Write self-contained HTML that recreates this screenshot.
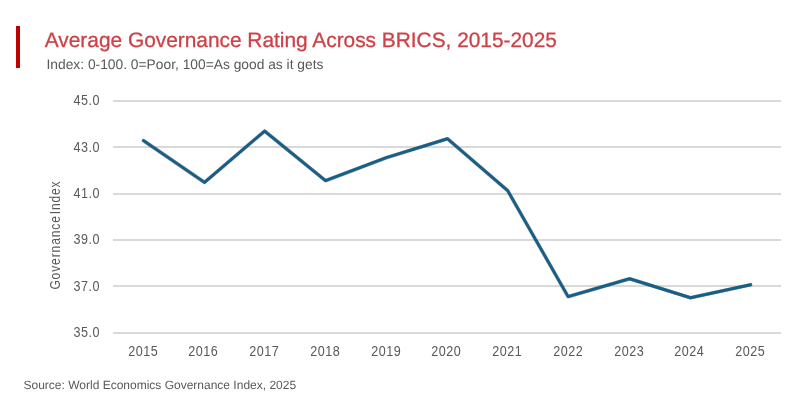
<!DOCTYPE html>
<html lang="en"><head><meta charset="utf-8"><title>Average Governance Rating Across BRICS, 2015-2025</title>
<style>
html,body{margin:0;padding:0;background:#fff}
body{width:800px;height:400px;overflow:hidden;font-family:"Liberation Sans",Arial,sans-serif}
svg{display:block}
text{font-family:"Liberation Sans",Arial,sans-serif;stroke-linejoin:round;text-rendering:geometricPrecision}
.ax text{text-rendering:auto}
.grid rect{fill:#d9d9d9}
</style></head><body>
<svg width="800" height="400" viewBox="0 0 800 400">
<rect width="800" height="400" fill="#ffffff"/>
<rect x="16" y="26" width="4" height="42" fill="#c00000"/>
<text transform="translate(44.80,47.00)" font-size="20.86" fill="#cd4248" text-anchor="start" stroke="#cd4248" stroke-width="0.3">Average Governance Rating Across BRICS, 2015-2025</text>

<text transform="translate(46.50,69.00)" font-size="13.8" fill="#595959" text-anchor="start">Index: 0-100. 0=Poor, 100=As good as it gets</text>

<g class="grid">
<rect x="113" y="332" width="668" height="2"/>
<rect x="113" y="285" width="668" height="2"/>
<rect x="113" y="239" width="668" height="2"/>
<rect x="113" y="193" width="668" height="2"/>
<rect x="113" y="146" width="668" height="2"/>
<rect x="113" y="100" width="668" height="2"/>
</g>
<g class="ax">
<text transform="translate(100.00,337.20) scale(0.84,1)" font-size="15" fill="#595959" text-anchor="end" letter-spacing="0.6">35.0</text>
<text transform="translate(100.00,290.84) scale(0.84,1)" font-size="15" fill="#595959" text-anchor="end" letter-spacing="0.6">37.0</text>
<text transform="translate(100.00,244.48) scale(0.84,1)" font-size="15" fill="#595959" text-anchor="end" letter-spacing="0.6">39.0</text>
<text transform="translate(100.00,198.12) scale(0.84,1)" font-size="15" fill="#595959" text-anchor="end" letter-spacing="0.6">41.0</text>
<text transform="translate(100.00,151.76) scale(0.84,1)" font-size="15" fill="#595959" text-anchor="end" letter-spacing="0.6">43.0</text>
<text transform="translate(100.00,105.40) scale(0.84,1)" font-size="15" fill="#595959" text-anchor="end" letter-spacing="0.6">45.0</text>
<text transform="translate(143.30,356.20) scale(0.84,1)" font-size="15" fill="#595959" text-anchor="middle" letter-spacing="0.6">2015</text>
<text transform="translate(203.20,356.20) scale(0.84,1)" font-size="15" fill="#595959" text-anchor="middle" letter-spacing="0.6">2016</text>
<text transform="translate(264.25,356.20) scale(0.84,1)" font-size="15" fill="#595959" text-anchor="middle" letter-spacing="0.6">2017</text>
<text transform="translate(325.30,356.20) scale(0.84,1)" font-size="15" fill="#595959" text-anchor="middle" letter-spacing="0.6">2018</text>
<text transform="translate(386.20,356.20) scale(0.84,1)" font-size="15" fill="#595959" text-anchor="middle" letter-spacing="0.6">2019</text>
<text transform="translate(446.35,356.20) scale(0.84,1)" font-size="15" fill="#595959" text-anchor="middle" letter-spacing="0.6">2020</text>
<text transform="translate(507.25,356.20) scale(0.84,1)" font-size="15" fill="#595959" text-anchor="middle" letter-spacing="0.6">2021</text>
<text transform="translate(568.30,356.20) scale(0.84,1)" font-size="15" fill="#595959" text-anchor="middle" letter-spacing="0.6">2022</text>
<text transform="translate(629.20,356.20) scale(0.84,1)" font-size="15" fill="#595959" text-anchor="middle" letter-spacing="0.6">2023</text>
<text transform="translate(689.35,356.20) scale(0.84,1)" font-size="15" fill="#595959" text-anchor="middle" letter-spacing="0.6">2024</text>
<text transform="translate(750.25,356.20) scale(0.84,1)" font-size="15" fill="#595959" text-anchor="middle" letter-spacing="0.6">2025</text>

<text transform="translate(60.10,235.06) rotate(-90) scale(0.86,1)" font-size="14.0" fill="#595959" text-anchor="middle" letter-spacing="1.03" word-spacing="-3.9">Governance Index</text>

</g>
<polyline points="143.50,140.65 204.50,182.40 264.60,131.05 325.50,180.65 386.30,157.65 447.50,138.75 507.70,190.65 568.10,296.65 629.60,278.75 690.50,297.75 750.60,284.75" fill="none" stroke="#4a3526" stroke-opacity="0.45" stroke-width="3.7" stroke-linecap="round" stroke-linejoin="round"/>
<polyline points="143.50,140.65 204.50,182.40 264.60,131.05 325.50,180.65 386.30,157.65 447.50,138.75 507.70,190.65 568.10,296.65 629.60,278.75 690.50,297.75 750.60,284.75" fill="none" stroke="#14608a" stroke-width="2.9" stroke-linecap="round" stroke-linejoin="round"/>
<text transform="translate(23.50,389.00)" font-size="12" fill="#595959" text-anchor="start">Source: World Economics Governance Index, 2025</text>

</svg>
</body></html>
